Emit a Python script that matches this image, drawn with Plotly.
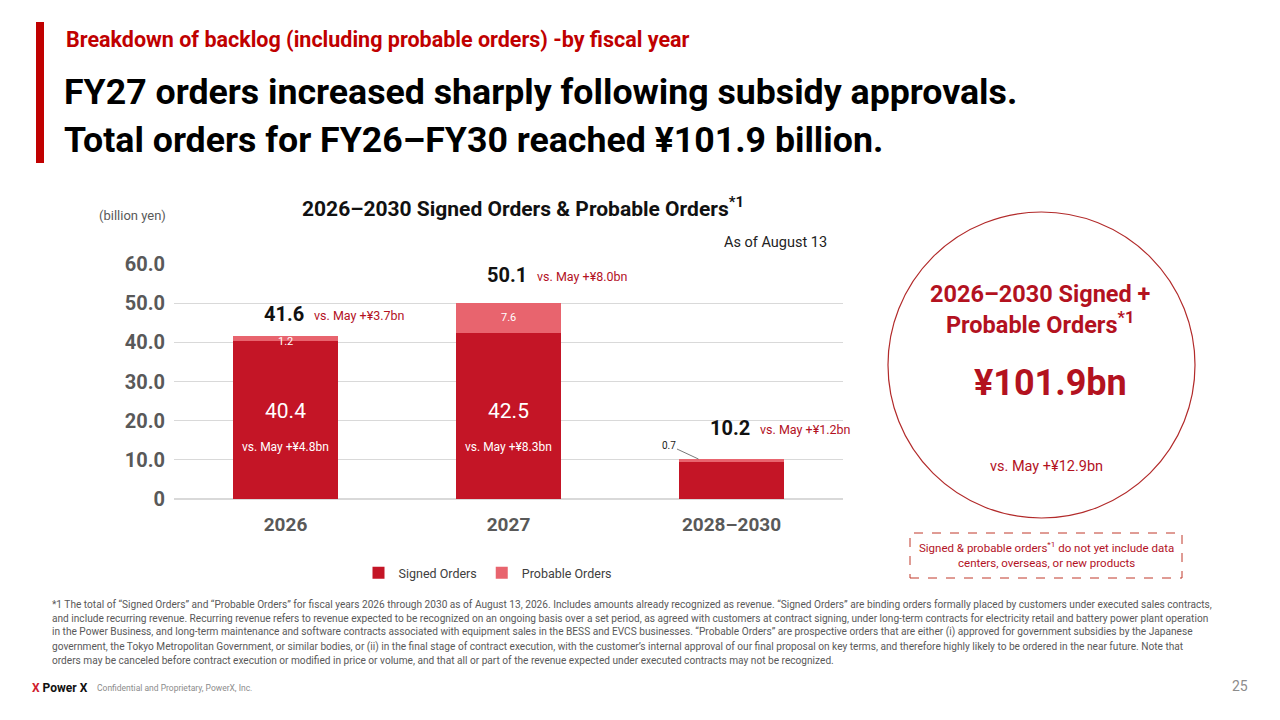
import plotly.graph_objects as go

# ---- data ----
categories = ["2026", "2027", "2028–2030"]
signed_orders = [40.4, 42.5, 9.5]
probable_orders = [1.2, 7.6, 0.7]
signed_vs_may = ["+¥4.8bn", "+¥8.3bn", None]
total_vs_may = ["+¥3.7bn", "+¥8.0bn", "+¥1.2bn"]
ytick_vals = [0, 10, 20, 30, 40, 50, 60]
ytick_text = ["0", "10.0", "20.0", "30.0", "40.0", "50.0", "60.0"]
grand_total = 101.9
grand_vs_may = "+¥12.9bn"

FONT = "Roboto, Liberation Sans, sans-serif"
RED = "#c41526"
PINK = "#e8646e"
DARK_RED = "#b3121f"
W, H = 1280, 720
OFF = 8  # page body margin


def px(x):
    return (x - OFF) / W


def py(y):
    return 1 - (y - OFF) / H


def note(x, y, text, size, color, xanchor="center", **kw):
    return dict(x=px(x), y=py(y), xref="paper", yref="paper", text=text,
                showarrow=False, xanchor=xanchor, yanchor="middle",
                font=dict(family=FONT, size=size, color=color), **kw)


# year labels look numeric, so place bars by index and label the ticks
xpos = list(range(len(categories)))
totals = [s + p for s, p in zip(signed_orders, probable_orders)]

fig = go.Figure()
fig.add_trace(
    go.Bar(
        x=xpos,
        y=signed_orders,
        name="Signed Orders",
        marker_color=RED,
        marker_line_width=0,
    )
)
fig.add_trace(
    go.Bar(
        x=xpos,
        y=probable_orders,
        name="Probable Orders",
        marker_color=PINK,
        marker_line_width=0,
    )
)

annotations = []

######### labels on bars #########
label_lift = [8, 14, 17]  # pixel gap above each stack
for i in xpos:
    total = totals[i]
    annotations.append(
        dict(x=i, y=total, xref="x", yref="y", text=f"<b>{total:.1f}</b>",
             showarrow=False, yanchor="bottom", yshift=label_lift[i], xshift=-2,
             font=dict(family=FONT, size=20, color="#111111"))
    )
    annotations.append(
        dict(x=i, y=total, xref="x", yref="y", text=f"vs. May {total_vs_may[i]}",
             showarrow=False, yanchor="bottom", xanchor="left",
             yshift=label_lift[i] + 3, xshift=26,
             font=dict(family=FONT, size=12.5, color=DARK_RED))
    )
    if signed_vs_may[i]:
        annotations.append(
            dict(x=i, y=0, xref="x", yref="y", text=f"{signed_orders[i]:.1f}",
                 showarrow=False, yshift=88,
                 font=dict(family=FONT, size=21, color="white"))
        )
        annotations.append(
            dict(x=i, y=0, xref="x", yref="y", text=f"vs. May {signed_vs_may[i]}",
                 showarrow=False, yshift=52,
                 font=dict(family=FONT, size=12, color="white"))
        )
    if probable_orders[i] > 1:
        annotations.append(
            dict(x=i, y=signed_orders[i] + probable_orders[i] / 2, xref="x", yref="y",
                 text=f"{probable_orders[i]:.1f}", showarrow=False,
                 yshift=0 if probable_orders[i] > 3 else -3,
                 font=dict(family=FONT, size=11, color="white"))
        )
    else:
        annotations.append(
            dict(x=i, y=total, xref="x", yref="y", text=f"{probable_orders[i]:.1f}",
                 showarrow=True, arrowhead=0, arrowwidth=0.8, arrowcolor="#555555",
                 ax=-30, ay=-14, xshift=-33, standoff=0,
                 font=dict(family=FONT, size=10, color="#222222"))
        )

######### header #########
annotations += [
    note(64, 40, "<b>Breakdown of backlog (including probable orders) -by fiscal year</b>",
         21.5, "#c00000", xanchor="left"),
    note(62, 92, "<b>FY27 orders increased sharply following subsidy approvals.</b>",
         35.7, "black", xanchor="left"),
    note(62, 140, "<b>Total orders for FY26–FY30 reached ¥101.9 billion.</b>",
         35.7, "black", xanchor="left"),
    note(523, 207, "<b>2026–2030 Signed Orders & Probable Orders<sup>*1</sup></b>",
         21, "#111111"),
    note(97, 216, "(billion yen)", 13, "#595959", xanchor="left"),
    note(829, 243, "As of August 13", 14.5, "#222222", xanchor="right"),
]

######### circle ##########
annotations += [
    note(1040, 309, "<b>2026–2030 Signed +<br>Probable Orders<sup>*1</sup></b>", 23.5, DARK_RED),
    note(1050, 383, f"<b>¥{grand_total:.1f}bn</b>", 36, DARK_RED),
    note(1046, 466, f"vs. May {grand_vs_may}", 14.5, DARK_RED),
    note(1046, 555,
         "Signed & probable orders<sup>*1</sup> do not yet include data<br>"
         "centers, overseas, or new products", 11.5, DARK_RED),
]

######### footnote #########
footnote_lines = [
    "*1 The total of “Signed Orders” and “Probable Orders” for fiscal years 2026 through 2030 as of August 13, 2026. "
    "Includes amounts already recognized as revenue. “Signed Orders” are binding orders formally placed by customers under executed sales contracts,",
    "and include recurring revenue. Recurring revenue refers to revenue expected to be recognized on an ongoing basis over a set period, "
    "as agreed with customers at contract signing, under long-term contracts for electricity retail and battery power plant operation",
    "in the Power Business, and long-term maintenance and software contracts associated with equipment sales in the BESS and EVCS businesses. "
    "“Probable Orders” are prospective orders that are either (i) approved for government subsidies by the Japanese",
    "government, the Tokyo Metropolitan Government, or similar bodies, or (ii) in the final stage of contract execution, with the customer’s "
    "internal approval of our final proposal on key terms, and therefore highly likely to be ordered in the near future. Note that",
    "orders may be canceled before contract execution or modified in price or volume, and that all or part of the revenue expected "
    "under executed contracts may not be recognized.",
]
for k, line in enumerate(footnote_lines):
    annotations.append(note(50, 604 + k * 14.2, line, 10.15, "#595959", xanchor="left"))

######### footer #########
annotations += [
    note(30, 688, "<b><span style='color:#d0202e'>X</span> Power X</b>", 12, "#111111",
         xanchor="left"),
    note(95, 688, "Confidential and Proprietary, PowerX, Inc.", 8.5, "#8c8c8c", xanchor="left"),
    note(1250, 686, "25", 14, "#8c8c8c", xanchor="right"),
]

shapes = [
    dict(type="rect", xref="paper", yref="paper", x0=px(36), x1=px(44), y0=py(163), y1=py(22),
         fillcolor="#c00000", line_width=0),
    dict(type="circle", xref="paper", yref="paper", x0=px(888), x1=px(1195), y0=py(518), y1=py(212),
         line=dict(color="#b22a2a", width=1.2)),
    dict(type="rect", xref="paper", yref="paper", x0=px(910), x1=px(1182), y0=py(578), y1=py(533),
         line=dict(color="#c0392b", width=1, dash="dash")),
]

fig.update_layout(
    width=W,
    height=H,
    margin=dict(l=0, r=0, t=0, b=0, autoexpand=False),
    paper_bgcolor="white",
    plot_bgcolor="white",
    barmode="stack",
    bargap=0.525,
    font=dict(family=FONT),
    annotations=annotations,
    shapes=shapes,
    legend=dict(
        orientation="h",
        x=px(488),
        xanchor="center",
        y=py(573),
        yanchor="middle",
        font=dict(family=FONT, size=12.5, color="#404040"),
        traceorder="normal",
    ),
    xaxis=dict(
        domain=[px(174), px(843)],
        range=[-0.5, len(categories) - 0.5],
        tickvals=xpos,
        ticktext=categories,
        tickfont=dict(family=FONT, size=19, color="#595959", weight="bold"),
        showline=False,
        showgrid=False,
        zeroline=False,
        ticks="",
        automargin=False,
        ticklabelstandoff=12,
    ),
    yaxis=dict(
        domain=[py(499), py(264)],
        range=[0, 60],
        tickvals=ytick_vals,
        ticktext=ytick_text,
        tickfont=dict(family=FONT, size=20, color="#595959", weight="bold"),
        gridcolor="#d9d9d9",
        gridwidth=1,
        zeroline=True,
        zerolinecolor="#d9d9d9",
        ticks="",
        automargin=False,
        ticklabelstandoff=8,
    ),
)

fig.write_html("out.html")
